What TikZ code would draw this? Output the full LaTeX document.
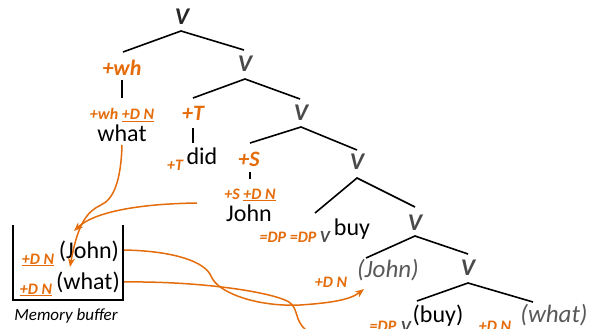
\documentclass[tikz,border=0pt]{standalone}
\usepackage{fontspec}
\setmainfont{Carlito}
\usetikzlibrary{arrows.meta}
\definecolor{org}{HTML}{E46C0A}
\definecolor{vg}{HTML}{4A4A4A}
\definecolor{tg}{HTML}{595959}
\tikzset{
  vlab/.style={inner sep=0pt, font=\fontsize{24}{24}\selectfont\bfseries\itshape, text=vg},
  feat/.style={inner sep=0pt, font=\fontsize{22}{22}\selectfont\bfseries\itshape, text=org},
  small/.style={inner sep=0pt, font=\fontsize{16}{16}\selectfont\bfseries\itshape, text=org},
  word/.style={inner sep=0pt, font=\fontsize{24}{24}\selectfont, text=black},
  trace/.style={inner sep=0pt, font=\fontsize{25}{25}\selectfont\itshape, text=tg},
  edge/.style={line width=1.6pt, black},
  bar/.style={line width=2.6pt, black},
  mv/.style={line width=1.5pt, org},
  tip/.style={-{Stealth[length=9pt,width=7pt]}},
}
\begin{document}
\begin{tikzpicture}[x=1pt,y=-1pt]
\useasboundingbox (0,0) rectangle (589,329);
% tree labels
\node[vlab, text=black!85] (v1) at (182,17) {V};
\node[feat] (wh) at (122,68) {+wh};
\node[small] (whf) at (122,115) {+wh \underline{+D N}};
\node[word] (what) at (122,133) {what};
\node[vlab] (v2) at (245,64) {V};
\node[feat] (T) at (193,113) {+T};
\node[small] (Tf) at (175,165) {+T};
\node[word] (did) at (202,156) {did};
\node[vlab] (v3) at (301,113) {V};
\node[feat] (S) at (249,159) {+S};
\node[small] (Sf) at (250,195) {+S \underline{+D N}};
\node[word] (john) at (249,213) {John};
\node[vlab] (v4) at (357,162) {V};
\node[small] (dp) at (288,237) {=DP =DP};
\node[vlab, font=\fontsize{17}{17}\selectfont\bfseries\itshape] (vs) at (325,237) {V};
\node[word] (buy) at (352,229) {buy};
\node[vlab] (v5) at (415,223) {V};
\node[small] (dn1) at (331,282) {+D N};
\node[trace] (tjohn) at (388,270) {(John)};
\node[vlab] (v6) at (468,268) {V};
\node[small] (dp2) at (383,326) {=DP};
\node[vlab, font=\fontsize{17}{17}\selectfont\bfseries\itshape] (vs2) at (406,327) {V};
\node[word] (tbuy) at (438,316) {(buy)};
\node[small] (dn2) at (495,326) {+D N};
\node[trace] (twhat) at (554,315) {(what)};
% tree edges
\coordinate (a1) at (181,31); \coordinate (l1) at (123,52); \coordinate (r1) at (244,50);
\coordinate (a2) at (245,79); \coordinate (l2) at (193,98); \coordinate (r2) at (300,99);
\coordinate (a3) at (301,127); \coordinate (l3) at (250,143); \coordinate (r3) at (357,150);
\coordinate (a4) at (357,178); \coordinate (l4) at (315,213); \coordinate (r4) at (415,207);
\coordinate (a5) at (415,236); \coordinate (l5) at (366,258); \coordinate (r5) at (468,254);
\coordinate (a6) at (468,283); \coordinate (l6) at (417,301); \coordinate (r6) at (533,302);
\draw[edge] (l1) -- (a1) -- (r1);
\draw[edge] (l2) -- (a2) -- (r2);
\draw[edge] (l3) -- (a3) -- (r3);
\draw[edge] (l4) -- (a4) -- (r4);
\draw[edge] (l5) -- (a5) -- (r5);
\draw[edge] (l6) -- (a6) -- (r6);
% bars
\coordinate (b1t) at (122,80); \coordinate (b1b) at (122,98);
\coordinate (b2t) at (193,128); \coordinate (b2b) at (193,143);
\coordinate (b3t) at (250,172); \coordinate (b3b) at (250,179);
\draw[bar] (b1t) -- (b1b);
\draw[bar] (b2t) -- (b2b);
\draw[bar] (b3t) -- (b3b);
% memory buffer
\coordinate (m1) at (13,225); \coordinate (m2) at (13,300); \coordinate (m3) at (123,300); \coordinate (m4) at (123,225);
\draw[line width=2pt, black] (m1) -- (m2) -- (m3) -- (m4);
\node[word] (bjohn) at (89,251) {(John)};
\node[small] (bdn1) at (38,260) {\underline{+D N}};
\node[word] (bwhat) at (88,282) {(what)};
\node[small] (bdn2) at (36,290) {\underline{+D N}};
\node[inner sep=0pt, font=\fontsize{17}{17}\selectfont\itshape] (mb) at (66,316) {Memory buffer};
% movement arrows
\coordinate (s1) at (122,145);
\coordinate (e1) at (70,267);
\draw[mv, tip] (s1) .. controls (121,180) and (114,199) .. (101,205)
   .. controls (88,211) and (78,222) .. (e1);
\coordinate (s2) at (197,203);
\coordinate (e2) at (74,231);
\draw[mv, tip] (s2) .. controls (130,204) and (92,214) .. (e2);
\coordinate (s3) at (124,250);
\coordinate (e3) at (364,289);
\draw[mv, tip] (s3) .. controls (175,251) and (205,262) .. (211,276)
   .. controls (218,294) and (260,307) .. (300,305)
   .. controls (330,303) and (350,300) .. (e3);
\coordinate (s4) at (124,282);
\coordinate (e4) at (306,330);
\draw[mv] (s4) .. controls (200,281) and (272,292) .. (289,302)
   .. controls (299,309) and (294,320) .. (e4);
\end{tikzpicture}
\end{document}
